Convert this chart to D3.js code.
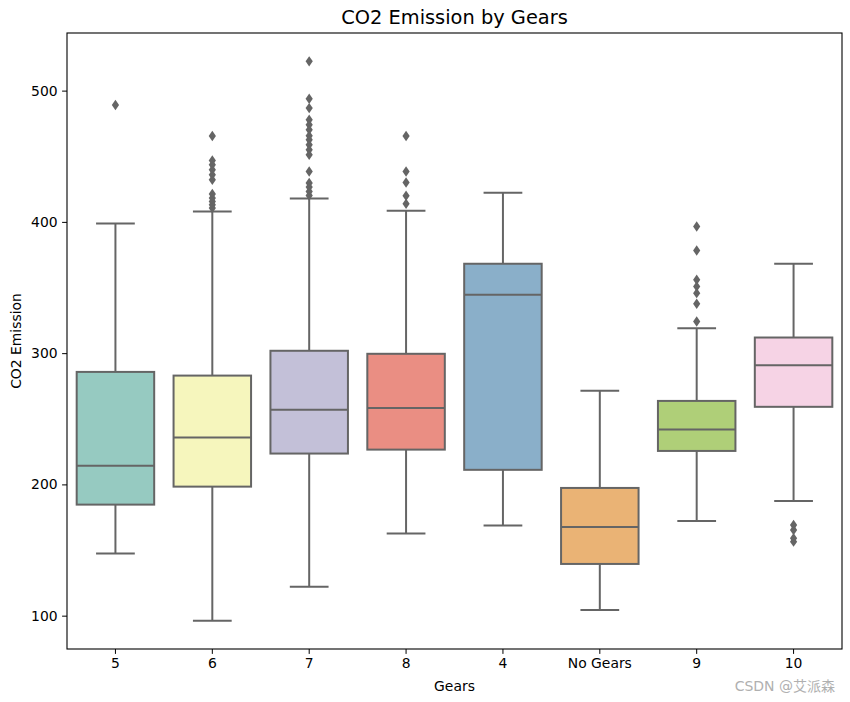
<!DOCTYPE html>
<html>
<head>
<meta charset="utf-8">
<script src="https://cdn.jsdelivr.net/npm/d3@7"></script>
<style>
  body { margin: 0; background: #fff; }
  svg { display: block; font-family: "DejaVu Sans", sans-serif; }
</style>
</head>
<body>
<svg id="chart" width="850" height="702"></svg>
<script>
const categories = ["5", "6", "7", "8", "4", "No Gears", "9", "10"];
const q1Values      = [184.6, 198.3, 223.5, 226.5, 211.1, 139.4, 225.5, 259.1];
const medianValues  = [214.3, 235.7, 256.8, 258.3, 344.4, 167.6, 241.8, 290.8];
const q3Values      = [285.7, 282.9, 301.8, 299.5, 368.1, 197.3, 263.6, 311.9];
const whiskerLow    = [147.3, 96.2, 122.1, 162.5, 168.6, 104.3, 172.2, 187.4];
const whiskerHigh   = [398.8, 407.9, 417.8, 408.5, 422.2, 271.3, 319.0, 368.1];
const outliers = [
  [489.0],
  [465.4, 446.8, 443.5, 439.7, 435.9, 432.1, 421.2, 418.1, 415.5, 413.0, 410.5],
  [522.3, 493.8, 486.7, 477.8, 474.0, 470.2, 465.6, 462.6, 458.8, 455.0, 451.2, 438.4, 429.6, 426.5, 423.2, 420.1],
  [465.4, 438.4, 430.0, 419.9, 413.8],
  [],
  [],
  [396.5, 378.2, 355.9, 350.8, 345.7, 337.6, 324.1],
  [169.1, 165.3, 159.0, 156.4]
];
const boxColors = ["#96cac1", "#f6f6bd", "#c3c0d8", "#ea8e83", "#8aafc9", "#eab375", "#afcf78", "#f6d3e5"];
const yTicks = [100, 200, 300, 400, 500];

const svg = d3.select("#chart");
const margin = {left: 67, top: 33, right: 8, bottom: 53};
const W = 850, H = 702;
const x = d3.scaleBand().domain(categories).range([margin.left, W - margin.right]).paddingInner(0).paddingOuter(0);
const y = d3.scaleLinear().domain([74.6, 543.9]).range([H - margin.bottom, margin.top]);
const lineColor = "#656565";
const lw = 2;

const data = categories.map((c, i) => ({
  c, q1: q1Values[i], med: medianValues[i], q3: q3Values[i],
  lo: whiskerLow[i], hi: whiskerHigh[i], out: outliers[i], color: boxColors[i]
}));

const boxW = x.bandwidth() * 0.8;
const capW = boxW * 0.5;
const g = svg.append("g");

data.forEach(d => {
  const cx = x(d.c) + x.bandwidth() / 2;
  g.append("line").attr("x1", cx).attr("x2", cx).attr("y1", y(d.q3)).attr("y2", y(d.hi))
    .attr("stroke", lineColor).attr("stroke-width", lw);
  g.append("line").attr("x1", cx).attr("x2", cx).attr("y1", y(d.q1)).attr("y2", y(d.lo))
    .attr("stroke", lineColor).attr("stroke-width", lw);
  [d.hi, d.lo].forEach(v => {
    g.append("line").attr("x1", cx - capW / 2).attr("x2", cx + capW / 2).attr("y1", y(v)).attr("y2", y(v))
      .attr("stroke", lineColor).attr("stroke-width", lw);
  });
  g.append("rect").attr("x", cx - boxW / 2).attr("width", boxW)
    .attr("y", y(d.q3)).attr("height", y(d.q1) - y(d.q3))
    .attr("fill", d.color).attr("stroke", lineColor).attr("stroke-width", lw);
  g.append("line").attr("x1", cx - boxW / 2).attr("x2", cx + boxW / 2).attr("y1", y(d.med)).attr("y2", y(d.med))
    .attr("stroke", lineColor).attr("stroke-width", lw);
  d.out.forEach(v => {
    const py = y(v);
    g.append("path")
      .attr("d", `M${cx},${py - 5.2} L${cx + 3.6},${py} L${cx},${py + 5.2} L${cx - 3.6},${py} Z`)
      .attr("fill", lineColor);
  });
});

svg.append("rect").attr("x", margin.left).attr("y", margin.top)
  .attr("width", W - margin.left - margin.right).attr("height", H - margin.top - margin.bottom)
  .attr("fill", "none").attr("stroke", "#000").attr("stroke-width", 1.1);

const yAxis = d3.axisLeft(y).tickValues(yTicks).tickSize(4.9).tickPadding(4.5);
const yg = svg.append("g").attr("transform", `translate(${margin.left},0)`).call(yAxis);
yg.select(".domain").remove();
yg.selectAll("text").attr("font-size", 13.9).attr("font-family", "DejaVu Sans").attr("fill", "#000");
yg.selectAll("line").attr("stroke", "#000");

const xAxis = d3.axisBottom(x).tickSize(4.9).tickPadding(4.5);
const xg = svg.append("g").attr("transform", `translate(0,${H - margin.bottom})`).call(xAxis);
xg.select(".domain").remove();
xg.selectAll("text").attr("font-size", 13.9).attr("font-family", "DejaVu Sans").attr("fill", "#000");
xg.selectAll("line").attr("stroke", "#000");

svg.append("text").attr("x", (margin.left + W - margin.right) / 2).attr("y", 24)
  .attr("text-anchor", "middle").attr("font-size", 19.4).text("CO2 Emission by Gears");
svg.append("text").attr("x", (margin.left + W - margin.right) / 2).attr("y", 691)
  .attr("text-anchor", "middle").attr("font-size", 13.9).text("Gears");
svg.append("text").attr("transform", `translate(21,${(margin.top + H - margin.bottom) / 2}) rotate(-90)`)
  .attr("text-anchor", "middle").attr("font-size", 13.9).text("CO2 Emission");
svg.append("text").attr("x", 835).attr("y", 691).attr("text-anchor", "end")
  .attr("font-size", 14).attr("fill", "#b0b0b0")
  .attr("font-family", "'DejaVu Sans', 'Noto Sans CJK SC', sans-serif").text("CSDN @艾派森");
</script>
</body>
</html>
